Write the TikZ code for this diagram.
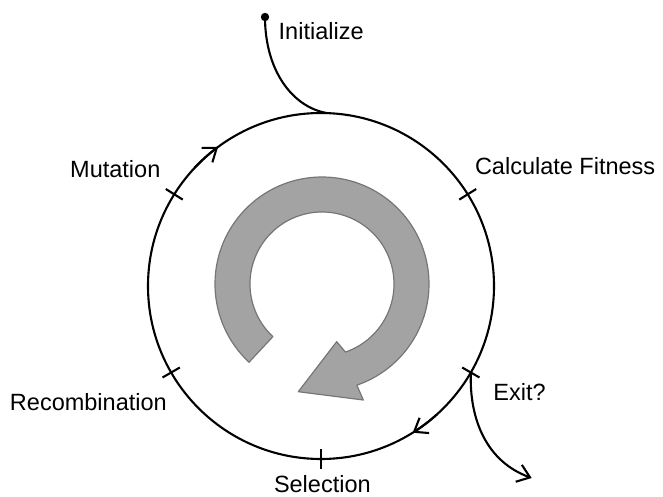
\documentclass[tikz,border=0pt]{standalone}
\usepackage{fontspec}
\setmainfont{Liberation Sans}
\usetikzlibrary{arrows.meta}
\definecolor{loopfill}{RGB}{163,163,163}
\definecolor{loopedge}{RGB}{118,118,118}
\begin{document}
\begin{tikzpicture}[x=1pt,y=1pt,
  ringline/.style={line width=2.1pt, black},
  stage/.style={font=\fontsize{23.5}{28}\selectfont, inner sep=0pt, anchor=base west},
  barb/.style={-{Straight Barb[length=12pt,width=18pt,line width=2.1pt]}}
]
\useasboundingbox (-321,-211) rectangle (342,286);

% the cycle ring
\coordinate (c) at (0,0);
\draw[ringline] (c) circle[radius=173];

% stage ticks on the ring
\foreach \a/\n in {148/mut,32/fit,-30/exit,-90/sel,210/rec} {
  \coordinate (t\n) at (\a:173);
  \draw[ringline] (\a:163) -- (\a:183);
}

% direction marks on the ring (clockwise)
\draw[ringline, barb] (137:173) arc[start angle=137, end angle=126.5, radius=173];
\draw[ringline, barb] (-48:173) arc[start angle=-48, end angle=-58, radius=173];

% entry from Initialize
\coordinate (init) at (-56,269);
\coordinate (entry) at (88:173);
\fill (init) circle[radius=4.2];
\draw[ringline] (init) .. controls (-56,216) and (-29,179) .. (entry);

% exit branch
\coordinate (exitend) at (210.7,-192);
\draw[ringline, barb] (texit) to[out=-92, in=160] (exitend);

% central loop arrow
\begin{scope}[shift={(1,2)}]
  \filldraw[fill=loopfill, draw=loopedge, line width=1.2pt, line join=round]
    (227:107) arc[start angle=227, end angle=-71, radius=107]
    -- (41.3,-116) -- (-23.7,-107.7) -- (14.7,-57.7)
    -- (-71:72) arc[start angle=-71, end angle=227, radius=72] -- cycle;
\end{scope}

% labels
\node[stage] (initialize) at (-42.5,246) {Initialize};
\node[stage] (mutation) at (-251,108.7) {Mutation};
\node[stage] (fitness) at (153.8,111.7) {Calculate Fitness};
\node[stage] (recomb) at (-311.2,-124) {Recombination};
\node[stage] (exitq) at (172.2,-114.7) {Exit?};
\node[stage] (selection) at (-47.2,-206) {Selection};
\end{tikzpicture}
\end{document}
